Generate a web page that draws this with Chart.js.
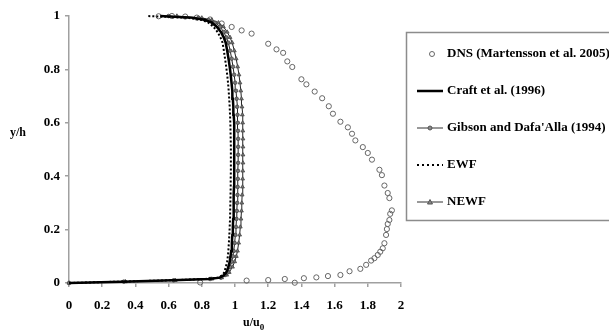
<!DOCTYPE html>
<html>
<head>
<meta charset="utf-8">
<script src="https://cdn.jsdelivr.net/npm/chart.js@4.4.1/dist/chart.umd.min.js"></script>
<style>
  html, body { margin: 0; padding: 0; background: #fff; overflow: hidden; }
  #wrap { width: 609px; height: 334px; }
</style>
</head>
<body>
<div id="wrap"><canvas id="velChart" width="609" height="334"></canvas></div>
<script>
// DNS points (Martensson et al. 2005)
const dnsX = [0.54, 0.62, 0.70, 0.77, 0.85, 0.92, 0.98, 1.04, 1.10, 1.20, 1.25, 1.29, 1.315, 1.345, 1.40,
    1.43, 1.48, 1.525, 1.565, 1.59, 1.635, 1.68, 1.705, 1.725, 1.77, 1.80, 1.825, 1.87, 1.885, 1.90,
    1.92, 1.93, 1.945, 1.935, 1.93, 1.92, 1.915, 1.91, 1.90, 1.89, 1.875, 1.86, 1.84, 1.82, 1.79,
    1.755, 1.69, 1.635, 1.56, 1.49, 1.415, 1.36, 1.30, 1.20, 1.07, 0.79];
const dnsY = [0.999, 1.0, 0.998, 0.994, 0.987, 0.972, 0.959, 0.946, 0.934, 0.896, 0.875, 0.862, 0.83, 0.809, 0.763,
    0.744, 0.717, 0.692, 0.662, 0.634, 0.604, 0.583, 0.559, 0.534, 0.509, 0.487, 0.462, 0.424, 0.404, 0.365,
    0.337, 0.318, 0.272, 0.259, 0.236, 0.221, 0.202, 0.18, 0.149, 0.13, 0.117, 0.105, 0.093, 0.084, 0.068,
    0.053, 0.044, 0.03, 0.026, 0.021, 0.018, 0.001, 0.015, 0.011, 0.009, 0.002];

// y/h positions shared by the model profiles
const modelY = [0, 0.005, 0.01, 0.015, 0.02, 0.03, 0.04, 0.06, 0.08, 0.1, 0.12, 0.15, 0.18, 0.21, 0.24,
    0.27, 0.3, 0.33, 0.36, 0.39, 0.42, 0.45, 0.48, 0.51, 0.54, 0.57, 0.6, 0.63, 0.66, 0.69,
    0.72, 0.75, 0.78, 0.81, 0.84, 0.87, 0.9, 0.92, 0.94, 0.96, 0.975, 0.985, 0.993, 1.0];

const craftX = [0, 0.32, 0.62, 0.84, 0.91, 0.935, 0.948, 0.96, 0.968, 0.973, 0.977, 0.981, 0.984, 0.987, 0.989,
    0.991, 0.992, 0.993, 0.994, 0.995, 0.995, 0.996, 0.996, 0.996, 0.995, 0.995, 0.994, 0.992, 0.99, 0.987,
    0.984, 0.979, 0.974, 0.968, 0.961, 0.953, 0.944, 0.932, 0.915, 0.89, 0.86, 0.82, 0.75, 0.55];
const gibsonX = [0, 0.33, 0.63, 0.85, 0.915, 0.94, 0.955, 0.97, 0.98, 0.987, 0.992, 0.998, 1.002, 1.006, 1.009,
    1.011, 1.013, 1.015, 1.016, 1.017, 1.018, 1.019, 1.019, 1.019, 1.019, 1.018, 1.017, 1.015, 1.013, 1.01,
    1.006, 1.001, 0.995, 0.988, 0.98, 0.971, 0.96, 0.948, 0.932, 0.91, 0.88, 0.84, 0.78, 0.6];
const ewfX = [0, 0.3, 0.6, 0.82, 0.9, 0.925, 0.935, 0.945, 0.952, 0.957, 0.96, 0.963, 0.966, 0.968, 0.97,
    0.971, 0.972, 0.973, 0.974, 0.974, 0.975, 0.975, 0.975, 0.975, 0.974, 0.973, 0.972, 0.97, 0.968, 0.965,
    0.962, 0.958, 0.953, 0.947, 0.94, 0.933, 0.925, 0.912, 0.895, 0.87, 0.84, 0.8, 0.72, 0.47];
const newfX = [0, 0.34, 0.64, 0.86, 0.92, 0.95, 0.965, 0.985, 0.998, 1.008, 1.015, 1.022, 1.028, 1.032, 1.036,
    1.039, 1.041, 1.043, 1.045, 1.046, 1.047, 1.048, 1.048, 1.048, 1.048, 1.047, 1.046, 1.044, 1.042, 1.039,
    1.035, 1.03, 1.024, 1.016, 1.007, 0.996, 0.983, 0.97, 0.953, 0.93, 0.9, 0.86, 0.8, 0.65];

const xTicks = [0, 0.2, 0.4, 0.6, 0.8, 1, 1.2, 1.4, 1.6, 1.8, 2];
const yTicks = [0, 0.2, 0.4, 0.6, 0.8, 1];

const seriesNames = ['DNS (Martensson et al. 2005)', 'Craft et al. (1996)', "Gibson and Dafa'Alla (1994)", 'EWF', 'NEWF'];

function toPoints(xs, ys) {
    return xs.map((x, i) => ({ x: x, y: ys[i] }));
}

const serif = '"Liberation Serif", "Times New Roman", serif';
const axisGray = '#a0a0a0';

// legend box + axis titles drawn on the canvas
const extrasPlugin = {
    id: 'extras',
    afterDraw(chart) {
        const ctx = chart.ctx;
        ctx.save();

        // y title
        ctx.fillStyle = '#000';
        ctx.font = 'bold 12px ' + serif;
        ctx.textAlign = 'center';
        ctx.textBaseline = 'middle';
        ctx.fillText('y/h', 18, 133);

        // x title with subscript
        ctx.textAlign = 'left';
        ctx.textBaseline = 'alphabetic';
        ctx.font = 'bold 12px ' + serif;
        ctx.fillText('u/u', 243, 326);
        const w = ctx.measureText('u/u').width;
        ctx.font = 'bold 9px ' + serif;
        ctx.fillText('0', 243 + w, 330);

        // legend frame (right side runs off the canvas, as in the original)
        ctx.strokeStyle = '#8c8c8c';
        ctx.lineWidth = 1.5;
        ctx.beginPath();
        ctx.moveTo(620, 32.5);
        ctx.lineTo(406.5, 32.5);
        ctx.lineTo(406.5, 220.5);
        ctx.lineTo(620, 220.5);
        ctx.stroke();

        const rows = [54, 91, 128, 165, 202];
        const x0 = 417, x1 = 443, xm = 430;
        ctx.font = 'bold 13px ' + serif;
        ctx.textBaseline = 'middle';
        ctx.fillStyle = '#000';

        // DNS
        ctx.beginPath();
        ctx.arc(432, rows[0], 2.5, 0, Math.PI * 2);
        ctx.strokeStyle = '#666';
        ctx.lineWidth = 1;
        ctx.stroke();

        // Craft
        ctx.beginPath();
        ctx.moveTo(x0, rows[1]); ctx.lineTo(x1, rows[1]);
        ctx.strokeStyle = '#000';
        ctx.lineWidth = 2.5;
        ctx.stroke();

        // Gibson
        ctx.beginPath();
        ctx.moveTo(x0, rows[2]); ctx.lineTo(x1, rows[2]);
        ctx.strokeStyle = '#333';
        ctx.lineWidth = 1;
        ctx.stroke();
        ctx.beginPath();
        ctx.arc(xm, rows[2], 2, 0, Math.PI * 2);
        ctx.fillStyle = '#888';
        ctx.fill();
        ctx.strokeStyle = '#555';
        ctx.stroke();

        // EWF
        ctx.beginPath();
        ctx.setLineDash([2, 3]);
        ctx.moveTo(x0, rows[3]); ctx.lineTo(x1, rows[3]);
        ctx.strokeStyle = '#000';
        ctx.lineWidth = 2;
        ctx.stroke();
        ctx.setLineDash([]);

        // NEWF
        ctx.beginPath();
        ctx.moveTo(x0, rows[4]); ctx.lineTo(x1, rows[4]);
        ctx.strokeStyle = '#333';
        ctx.lineWidth = 1;
        ctx.stroke();
        ctx.beginPath();
        ctx.moveTo(xm, rows[4] - 2.5);
        ctx.lineTo(xm + 2.5, rows[4] + 2);
        ctx.lineTo(xm - 2.5, rows[4] + 2);
        ctx.closePath();
        ctx.fillStyle = '#888';
        ctx.fill();
        ctx.strokeStyle = '#555';
        ctx.stroke();

        ctx.fillStyle = '#000';
        seriesNames.forEach((name, i) => {
            ctx.fillText(name, 447, rows[i]);
        });

        ctx.restore();
    }
};

function tickText(v) {
    return String(Number(v.toFixed(1)));
}

const ctx = document.getElementById('velChart').getContext('2d');
new Chart(ctx, {
    type: 'scatter',
    data: {
        datasets: [
            {
                label: seriesNames[3],
                data: toPoints(ewfX, modelY),
                showLine: true,
                borderColor: '#000',
                borderWidth: 2,
                borderDash: [2, 2],
                pointRadius: 0,
                clip: false
            },
            {
                label: seriesNames[1],
                data: toPoints(craftX, modelY),
                showLine: true,
                borderColor: '#000',
                borderWidth: 2.5,
                pointRadius: 0,
                clip: false
            },
            {
                label: seriesNames[2],
                data: toPoints(gibsonX, modelY),
                showLine: true,
                borderColor: '#222',
                borderWidth: 1,
                pointRadius: 1.8,
                pointBackgroundColor: '#777',
                pointBorderColor: '#444',
                pointBorderWidth: 0.8,
                clip: false
            },
            {
                label: seriesNames[4],
                data: toPoints(newfX, modelY),
                showLine: true,
                borderColor: '#222',
                borderWidth: 1,
                pointStyle: 'triangle',
                pointRadius: 2.2,
                pointBackgroundColor: '#777',
                pointBorderColor: '#444',
                pointBorderWidth: 0.8,
                clip: false
            },
            {
                label: seriesNames[0],
                data: toPoints(dnsX, dnsY),
                showLine: false,
                pointRadius: 2.6,
                pointBackgroundColor: 'rgba(255,255,255,0)',
                pointBorderColor: '#666',
                pointBorderWidth: 1,
                clip: false
            }
        ]
    },
    options: {
        responsive: false,
        animation: false,
        devicePixelRatio: 1,
        layout: { padding: { left: 0, right: 208, top: 16, bottom: 0 } },
        plugins: {
            legend: { display: false },
            tooltip: { enabled: false }
        },
        scales: {
            x: {
                type: 'linear',
                min: 0,
                max: 2,
                afterFit: s => { s.height = 51; },
                afterBuildTicks: s => { s.ticks = xTicks.map(v => ({ value: v })); },
                border: { color: axisGray, width: 1.5 },
                grid: { drawOnChartArea: false, drawTicks: true, tickLength: 4, color: axisGray, lineWidth: 1.5 },
                ticks: {
                    padding: 11,
                    color: '#000',
                    font: { family: serif, size: 13, weight: 'bold' },
                    callback: v => tickText(v)
                }
            },
            y: {
                type: 'linear',
                min: 0,
                max: 1,
                afterFit: s => { s.width = 69; },
                afterBuildTicks: s => { s.ticks = yTicks.map(v => ({ value: v })); },
                border: { color: axisGray, width: 1.5 },
                grid: { drawOnChartArea: false, drawTicks: true, tickLength: 4, color: axisGray, lineWidth: 1.5 },
                ticks: {
                    padding: 5,
                    color: '#000',
                    font: { family: serif, size: 13, weight: 'bold' },
                    callback: v => tickText(v)
                }
            }
        }
    },
    plugins: [extrasPlugin]
});
</script>
</body>
</html>
